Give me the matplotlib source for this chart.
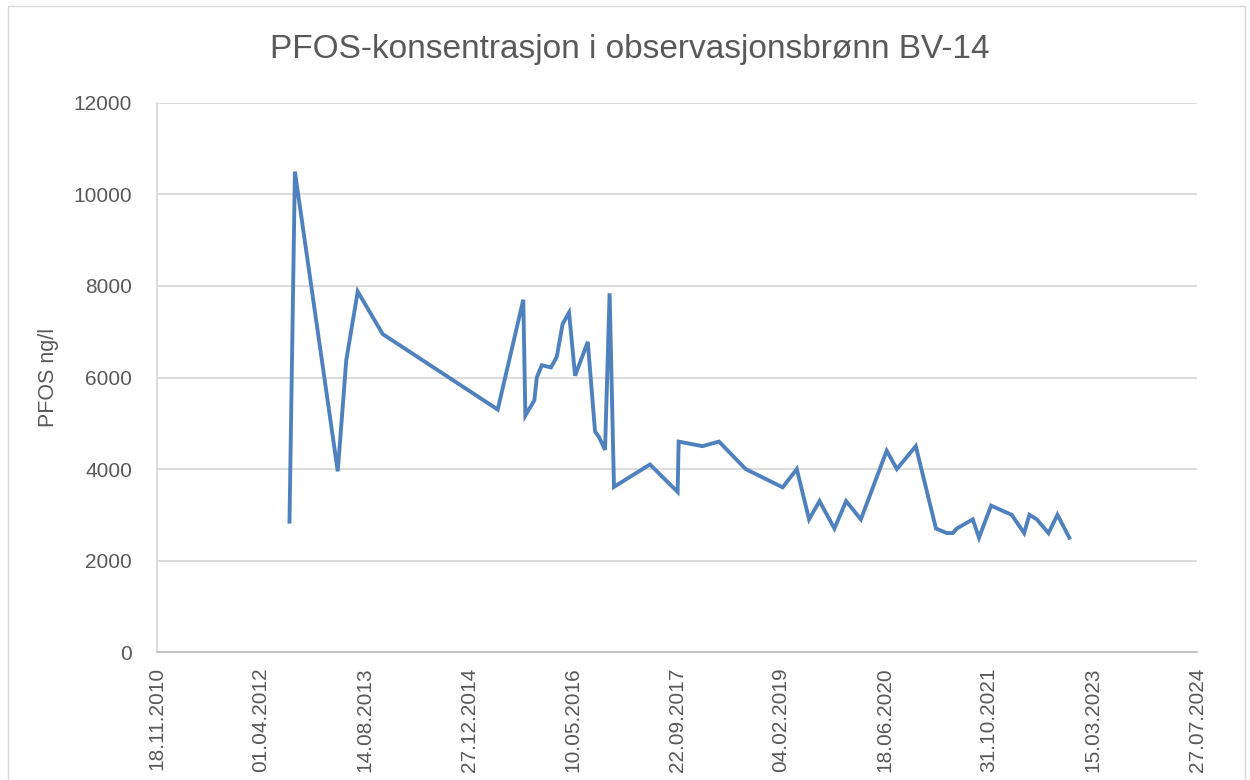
import numpy as np
import matplotlib
matplotlib.use("Agg")
import matplotlib.pyplot as plt
import matplotlib.dates as mdates
from matplotlib.patches import Rectangle

# sample dates and PFOS values (ng/l)
dates = [
    "2012-08-16", "2012-09-11", "2013-04-05", "2013-05-16", "2013-07-10",
    "2013-11-07", "2015-05-14", "2015-09-14", "2015-09-24", "2015-11-06",
    "2015-11-18", "2015-12-12", "2016-01-25", "2016-02-22", "2016-03-21",
    "2016-04-21", "2016-05-20", "2016-07-20", "2016-08-24", "2016-09-12",
    "2016-10-11", "2016-11-02", "2016-11-23", "2017-05-15", "2017-09-25",
    "2017-09-30", "2018-01-22", "2018-04-12", "2018-08-18", "2019-02-12",
    "2019-04-21", "2019-06-19", "2019-08-08", "2019-10-19", "2019-12-14",
    "2020-02-23", "2020-06-26", "2020-08-14", "2020-11-13", "2021-02-18",
    "2021-04-11", "2021-05-10", "2021-05-29", "2021-08-14", "2021-09-13",
    "2021-11-10", "2022-02-17", "2022-04-18", "2022-05-13", "2022-06-18",
    "2022-08-13", "2022-09-25", "2022-11-21",
]
pfos = [
    2850, 10500, 3950, 6380, 7880,
    6950, 5300, 7700, 5170, 5500,
    6000, 6270, 6220, 6450, 7170,
    7420, 6040, 6780, 4820, 4700,
    4420, 7840, 3610, 4100, 3500,
    4600, 4500, 4600, 4000, 3600,
    4000, 2900, 3300, 2700, 3300,
    2900, 4400, 4000, 4500, 2700,
    2600, 2600, 2700, 2900, 2500,
    3200, 3000, 2600, 3000, 2900,
    2600, 3000, 2500,
]

x_start = "2010-11-18"
x_step_days = 500
n_ticks = 11
y_ticks = [0, 2000, 4000, 6000, 8000, 10000, 12000]

title = "PFOS-konsentrasjon i observasjonsbrønn BV-14"
ylabel = "PFOS ng/l"

txt = "#595959"
plt.rcParams['font.family'] = ['Liberation Sans', 'DejaVu Sans']

fig = plt.figure(figsize=(12.5, 7.8), dpi=100)
ax = fig.add_axes([0.1256, 0.164, 0.832, 0.704])

# chart border
fig.patches.append(Rectangle((0.006, -0.01), 0.99, 1.002, transform=fig.transFigure,
                             fill=False, edgecolor="#d9d9d9", linewidth=1.0))

x = mdates.date2num(np.array(dates, dtype="datetime64[D]"))
ax.plot(x, pfos, color="#4f81bd", linewidth=2.8, solid_joinstyle="miter")

x0 = mdates.date2num(np.datetime64(x_start))
ticks = [x0 + x_step_days * i for i in range(n_ticks)]
ax.set_xlim(ticks[0], ticks[-1])
ax.set_xticks(ticks)
ax.xaxis.set_major_formatter(mdates.DateFormatter("%d.%m.%Y"))
ax.tick_params(axis="x", labelrotation=90, colors=txt, labelsize=15, length=0, pad=11)

ax.set_ylim(0, 12000)
ax.set_yticks(y_ticks)
ax.tick_params(axis="y", colors=txt, labelsize=15, length=0, pad=18)
ax.yaxis.grid(True, color="#d9d9d9", linewidth=1.3)
ax.set_axisbelow(True)

for s in ["top", "right"]:
    ax.spines[s].set_visible(False)
ax.spines["left"].set_color("#d9d9d9")
ax.spines["left"].set_linewidth(1.3)
ax.spines["bottom"].set_color("#bfbfbf")
ax.spines["bottom"].set_linewidth(1.3)

ax.set_ylabel(ylabel, color=txt, fontsize=15.5)
ax.yaxis.set_label_coords(-0.094, 0.5)
fig.text(0.504, 0.936, title, ha="center", va="center", color=txt, fontsize=24)

fig.savefig("out.png", dpi=100)
